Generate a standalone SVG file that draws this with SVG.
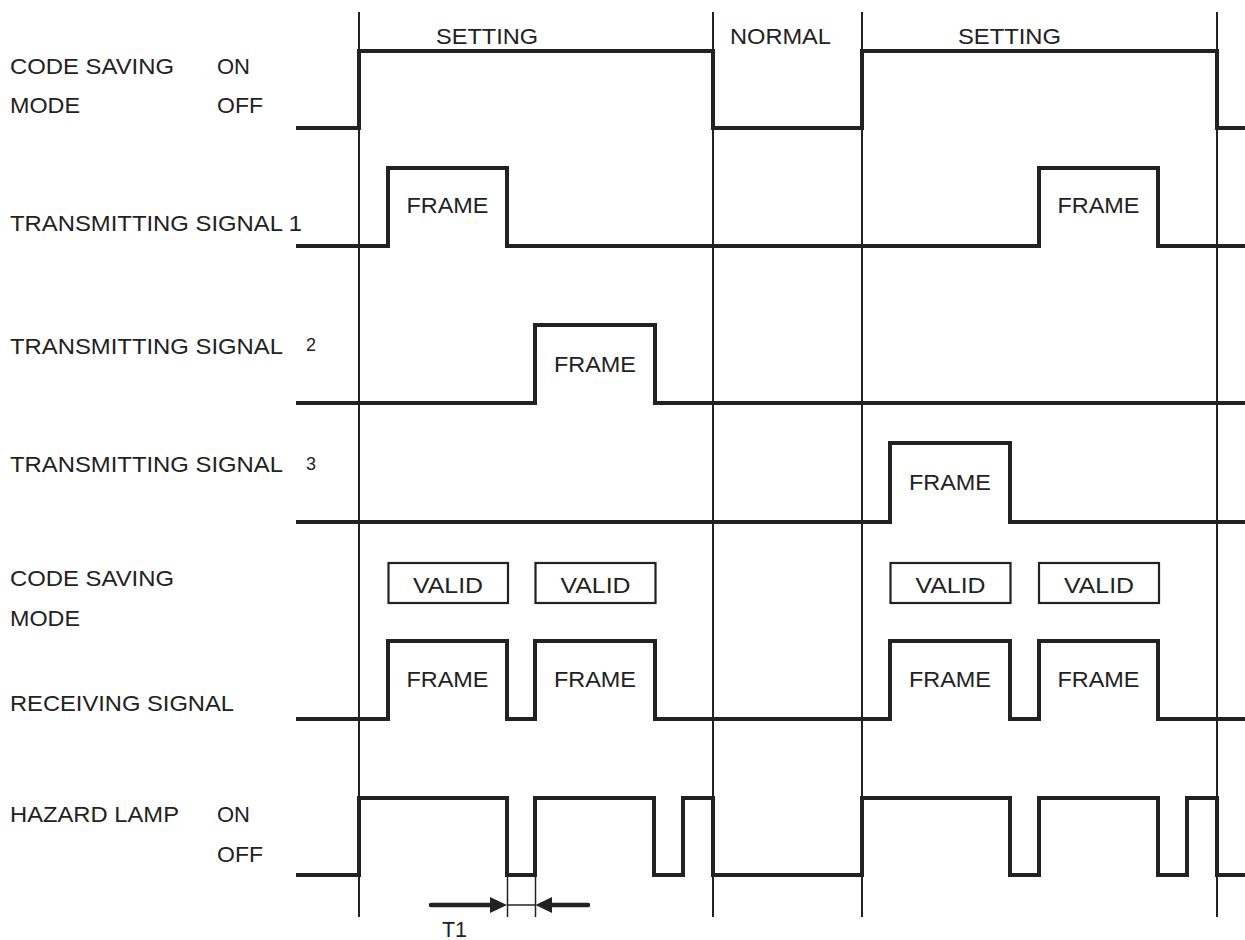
<svg xmlns="http://www.w3.org/2000/svg" width="1245" height="940" viewBox="0 0 1245 940">
<defs>
<style>
.bg{fill:#ffffff}
.grid{stroke:#222;stroke-width:2;fill:none}
.wave{stroke:#222;stroke-width:4;fill:none;stroke-linejoin:miter;stroke-linecap:square}
.box{stroke:#222;stroke-width:2.2;fill:none}
.lbl{font-family:"Liberation Sans",Arial,sans-serif;font-size:22px;fill:#222}
.mid{text-anchor:middle}
.sm{font-family:"Liberation Sans",Arial,sans-serif;font-size:18px;fill:#222}
.thin{stroke:#222;stroke-width:1.5;fill:none}
.shaft{stroke:#222;stroke-width:4.5;fill:none;stroke-linecap:round}
</style>
<marker id="ah" viewBox="0 0 10 10" refX="10" refY="5" markerWidth="4.2" markerHeight="4" markerUnits="strokeWidth" orient="auto">
<path d="M0,0 L10,5 L0,10 z" fill="#222"/>
</marker>
</defs>
<rect class="bg" x="0" y="0" width="1245" height="940"/>

<g id="grid">
<line class="grid" x1="359" y1="12" x2="359" y2="917"/>
<line class="grid" x1="713" y1="12" x2="713" y2="917"/>
<line class="grid" x1="862" y1="12" x2="862" y2="917"/>
<line class="grid" x1="1217" y1="12" x2="1217" y2="917"/>
<text class="lbl" x="436" y="44" textLength="102" lengthAdjust="spacingAndGlyphs">SETTING</text>
<text class="lbl" x="730" y="44" textLength="101" lengthAdjust="spacingAndGlyphs">NORMAL</text>
<text class="lbl" x="958" y="44" textLength="103" lengthAdjust="spacingAndGlyphs">SETTING</text>
</g>

<g id="code-saving-mode">
<text class="lbl" x="10" y="74" textLength="164" lengthAdjust="spacingAndGlyphs">CODE SAVING</text>
<text class="lbl" x="10" y="113" textLength="70" lengthAdjust="spacingAndGlyphs">MODE</text>
<text class="lbl" x="217" y="74" textLength="33" lengthAdjust="spacingAndGlyphs">ON</text>
<text class="lbl" x="217" y="113" textLength="46" lengthAdjust="spacingAndGlyphs">OFF</text>
<path class="wave" d="M298,128 H359 V51 H713 V128 H862 V51 H1217 V128 H1245"/>
</g>

<g id="transmitting-signal-1">
<text class="lbl" x="10" y="231" textLength="292" lengthAdjust="spacingAndGlyphs">TRANSMITTING SIGNAL 1</text>
<path class="wave" d="M298,246 H388 V168 H507 V246 H1039 V168 H1158 V246 H1245"/>
<text class="lbl mid" x="447.5" y="213" textLength="82" lengthAdjust="spacingAndGlyphs">FRAME</text>
<text class="lbl mid" x="1098.5" y="213" textLength="82" lengthAdjust="spacingAndGlyphs">FRAME</text>
</g>

<g id="transmitting-signal-2">
<text class="lbl" x="10" y="354" textLength="273" lengthAdjust="spacingAndGlyphs">TRANSMITTING SIGNAL</text>
<text class="sm" x="306" y="351">2</text>
<path class="wave" d="M298,403 H535 V325 H655 V403 H1245"/>
<text class="lbl mid" x="595" y="372" textLength="82" lengthAdjust="spacingAndGlyphs">FRAME</text>
</g>

<g id="transmitting-signal-3">
<text class="lbl" x="10" y="472" textLength="273" lengthAdjust="spacingAndGlyphs">TRANSMITTING SIGNAL</text>
<text class="sm" x="306" y="470">3</text>
<path class="wave" d="M298,522 H890 V443 H1010 V522 H1245"/>
<text class="lbl mid" x="950" y="490" textLength="82" lengthAdjust="spacingAndGlyphs">FRAME</text>
</g>

<g id="receiving-signal">
<text class="lbl" x="10" y="586" textLength="164" lengthAdjust="spacingAndGlyphs">CODE SAVING</text>
<text class="lbl" x="10" y="626" textLength="70" lengthAdjust="spacingAndGlyphs">MODE</text>
<text class="lbl" x="10" y="711" textLength="224" lengthAdjust="spacingAndGlyphs">RECEIVING SIGNAL</text>
<rect class="box" x="388.5" y="563" width="119.5" height="40"/>
<rect class="box" x="535.5" y="563" width="120" height="40"/>
<rect class="box" x="890.5" y="563" width="120" height="40"/>
<rect class="box" x="1039" y="563" width="120" height="40"/>
<text class="lbl mid" x="448" y="593" textLength="70" lengthAdjust="spacingAndGlyphs">VALID</text>
<text class="lbl mid" x="595.5" y="593" textLength="70" lengthAdjust="spacingAndGlyphs">VALID</text>
<text class="lbl mid" x="950.5" y="593" textLength="70" lengthAdjust="spacingAndGlyphs">VALID</text>
<text class="lbl mid" x="1099" y="593" textLength="70" lengthAdjust="spacingAndGlyphs">VALID</text>
<path class="wave" d="M298,719 H388 V641 H507 V719 H535 V641 H655 V719 H890 V641 H1010 V719 H1039 V641 H1158 V719 H1245"/>
<text class="lbl mid" x="447.5" y="687" textLength="82" lengthAdjust="spacingAndGlyphs">FRAME</text>
<text class="lbl mid" x="595" y="687" textLength="82" lengthAdjust="spacingAndGlyphs">FRAME</text>
<text class="lbl mid" x="950" y="687" textLength="82" lengthAdjust="spacingAndGlyphs">FRAME</text>
<text class="lbl mid" x="1098.5" y="687" textLength="82" lengthAdjust="spacingAndGlyphs">FRAME</text>
</g>

<g id="hazard-lamp">
<text class="lbl" x="10" y="822" textLength="169" lengthAdjust="spacingAndGlyphs">HAZARD LAMP</text>
<text class="lbl" x="217" y="822" textLength="33" lengthAdjust="spacingAndGlyphs">ON</text>
<text class="lbl" x="217" y="862" textLength="46" lengthAdjust="spacingAndGlyphs">OFF</text>
<path class="wave" d="M298,875 H359 V798 H507 V875 H535 V798 H654 V875 H683 V798 H713 V875 H862 V798 H1010 V875 H1039 V798 H1158 V875 H1187 V798 H1217 V875 H1245"/>
</g>

<g id="connectors">
<line class="thin" x1="507.5" y1="875" x2="507.5" y2="917"/>
<line class="thin" x1="535.5" y1="875" x2="535.5" y2="917"/>
<line class="thin" x1="507.5" y1="905" x2="535.5" y2="905"/>
<line class="shaft" x1="431" y1="905" x2="492" y2="905"/>
<path d="M490,897 L507,905 L490,913 z" fill="#222"/>
<line class="shaft" x1="551" y1="905" x2="588" y2="905"/>
<path d="M552,897 L535.5,905 L552,913 z" fill="#222"/>
<text class="lbl" x="442" y="937" textLength="25" lengthAdjust="spacingAndGlyphs">T1</text>
</g>
</svg>
